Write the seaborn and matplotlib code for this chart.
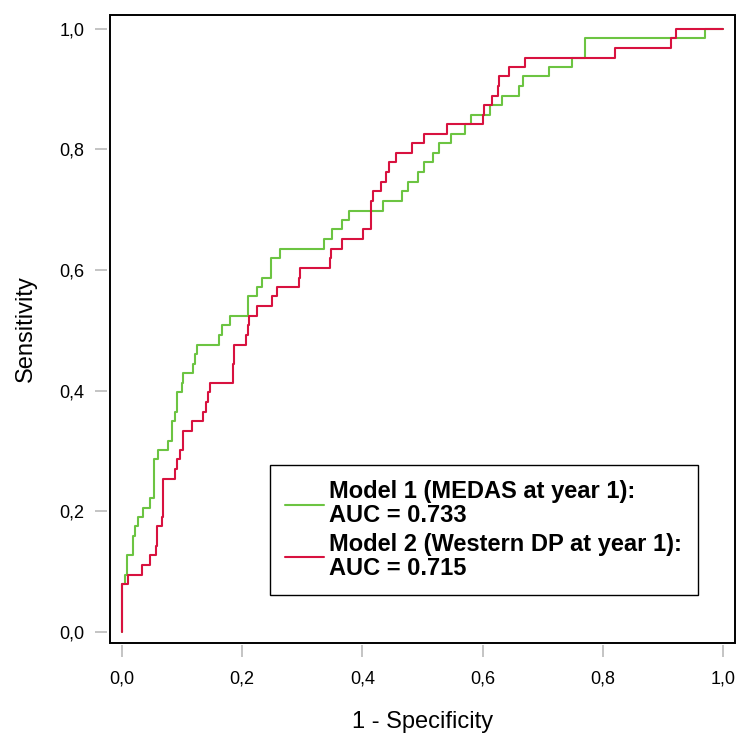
import numpy as np
import pandas as pd
import matplotlib
matplotlib.use("Agg")
import matplotlib.pyplot as plt
from matplotlib.patches import Rectangle
from matplotlib.ticker import FuncFormatter, MultipleLocator
import seaborn as sns

# ROC curve corner points: false positive rate where sensitivity jumps, and the new sensitivity
model1_fpr = [0.000, 0.000, 0.0045, 0.0078, 0.018, 0.021, 0.027, 0.0345, 0.047, 0.053,
              0.0596, 0.077, 0.083, 0.0885, 0.092, 0.099, 0.102, 0.1185, 0.122, 0.1247,
              0.161, 0.167, 0.180, 0.209, 0.2254, 0.2325, 0.2487, 0.2626, 0.336, 0.349,
              0.3656, 0.378, 0.4336, 0.4658, 0.4758, 0.492, 0.502, 0.518, 0.5275, 0.547,
              0.570, 0.580, 0.6127, 0.632, 0.661, 0.668, 0.710, 0.7496, 0.771, 0.970, 1.000]
model1_tpr = [0.000, 0.079, 0.095, 0.127, 0.159, 0.175, 0.190, 0.206, 0.222, 0.286,
              0.302, 0.317, 0.349, 0.365, 0.397, 0.413, 0.429, 0.444, 0.460, 0.476,
              0.492, 0.508, 0.524, 0.556, 0.571, 0.587, 0.619, 0.635, 0.651, 0.667,
              0.683, 0.698, 0.714, 0.730, 0.746, 0.762, 0.778, 0.794, 0.810, 0.825,
              0.841, 0.857, 0.873, 0.889, 0.905, 0.921, 0.937, 0.952, 0.984, 1.000, 1.000]

model2_fpr = [0.000, 0.000, 0.0105, 0.034, 0.046, 0.057, 0.059, 0.067, 0.069, 0.0885,
              0.091, 0.096, 0.102, 0.116, 0.135, 0.139, 0.143, 0.147, 0.184, 0.1865,
              0.2065, 0.209, 0.212, 0.225, 0.249, 0.258, 0.294, 0.297, 0.346, 0.348,
              0.366, 0.401, 0.414, 0.417, 0.431, 0.440, 0.444, 0.456, 0.4825, 0.502,
              0.540, 0.600, 0.603, 0.6155, 0.6255, 0.628, 0.644, 0.671, 0.820, 0.914,
              0.9215, 1.000]
model2_tpr = [0.000, 0.079, 0.095, 0.111, 0.127, 0.143, 0.175, 0.190, 0.254, 0.270,
              0.286, 0.302, 0.333, 0.349, 0.365, 0.381, 0.397, 0.413, 0.444, 0.476,
              0.492, 0.508, 0.524, 0.540, 0.556, 0.571, 0.587, 0.603, 0.619, 0.635,
              0.651, 0.667, 0.714, 0.730, 0.746, 0.762, 0.778, 0.794, 0.810, 0.825,
              0.841, 0.857, 0.873, 0.889, 0.905, 0.921, 0.937, 0.952, 0.968, 0.984,
              1.000, 1.000]

model_labels = ["Model 1 (MEDAS at year 1):\nAUC = 0.733",
                "Model 2 (Western DP at year 1):\nAUC = 0.715"]
model_colors = ["#6cc442", "#d8123f"]

df = pd.concat([
    pd.DataFrame({"fpr": model1_fpr, "tpr": model1_tpr, "model": model_labels[0]}),
    pd.DataFrame({"fpr": model2_fpr, "tpr": model2_tpr, "model": model_labels[1]}),
], ignore_index=True)

sns.set_style("white")
plt.rcParams["font.family"] = ["Liberation Sans", "DejaVu Sans"]
plt.rcParams["text.color"] = "black"
plt.rcParams["axes.labelcolor"] = "black"

fig = plt.figure(figsize=(7.37, 7.38), dpi=100)
ax = fig.add_axes([0.14925, 0.1283, 0.848, 0.8518])

sns.lineplot(data=df, x="fpr", y="tpr", hue="model", hue_order=model_labels,
             palette=model_colors, estimator=None, sort=False,
             drawstyle="steps-post", linewidth=1.5, ax=ax)

ax.set_xlim(-0.02, 1.02)
ax.set_ylim(-0.019, 1.023)
ax.xaxis.set_major_locator(MultipleLocator(0.2))
ax.yaxis.set_major_locator(MultipleLocator(0.2))
comma = FuncFormatter(lambda v, pos: f"{v:.1f}".replace(".", ","))
ax.xaxis.set_major_formatter(comma)
ax.yaxis.set_major_formatter(comma)

# Frame drawn as a separate box; ticks sit slightly outside it
for side in ["top", "right", "left", "bottom"]:
    ax.spines[side].set_visible(False)
ax.spines["left"].set_position(("outward", 2))
ax.spines["bottom"].set_position(("outward", 1))
ax.add_patch(Rectangle((0, 0), 1, 1, transform=ax.transAxes, fill=False,
                       edgecolor="black", linewidth=1.4, clip_on=False, zorder=5))

ax.tick_params(axis="both", which="major", direction="out", length=8.5, width=1.1,
               color="#b4b4b4", labelsize=13, labelcolor="black",
               bottom=True, left=True, top=False, right=False)
ax.tick_params(axis="y", pad=8)
ax.tick_params(axis="x", pad=10)

ax.set_xlabel("1 - Specificity", fontsize=17, labelpad=17, color="black")
ax.set_ylabel("Sensitivity", fontsize=17, labelpad=16, color="black")

handles, _ = ax.get_legend_handles_labels()
leg = ax.legend(handles, model_labels, loc="upper left",
                bbox_to_anchor=(0.256, 0.2837), borderaxespad=0,
                prop={"size": 17, "weight": "bold"}, frameon=True, fancybox=False,
                framealpha=1, edgecolor="black", handlelength=1.65,
                handletextpad=0.22, borderpad=0.65, labelspacing=0.22)
leg.get_frame().set_linewidth(1.0)
for t in leg.get_texts():
    t.set_linespacing(1.06)
    t.set_color("black")

fig.savefig("out.png", dpi=100)
